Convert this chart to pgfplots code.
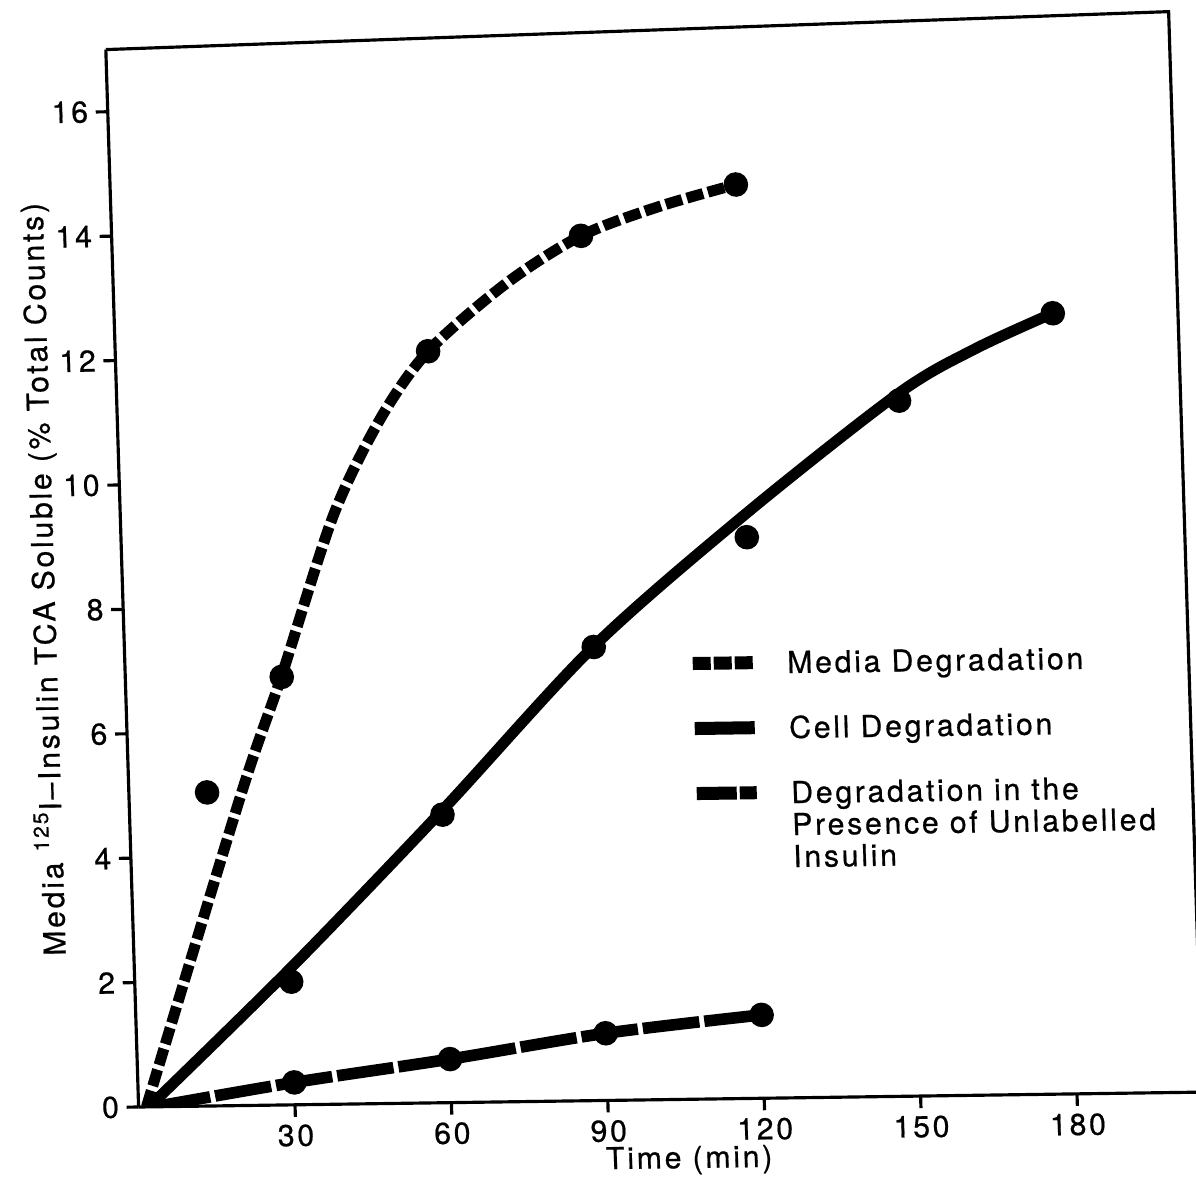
\documentclass[border=0pt]{standalone}
\usepackage{fontspec}
\setmainfont{TeX Gyre Heros}[LetterSpace=9, FakeBold=0.6]
\usepackage{pgfplots}
\pgfplotsset{compat=1.18}

\begin{document}
\begin{tikzpicture}[font=\fontsize{8.6}{9.1}\selectfont]
\useasboundingbox (0,0) rectangle (11.96,11.78);
\clip (0,0) rectangle (11.96,11.78);
% the printed frame is slightly skewed on the page
\begin{scope}[cm={1,0.014,-0.031,1,(1.386,0.71)}, transform shape]
\begin{axis}[
  scale only axis,
  width=10.635cm, height=10.574cm,
  xmin=0, xmax=204, ymin=0, ymax=17,
  axis x line*=bottom, axis y line*=left,
  axis line style={line width=0.9pt},
  tick align=outside,
  major tick length=0.12cm,
  every tick/.style={black, line width=0.9pt},
  xtick={30,60,...,180}, ytick={0,2,...,16},
  /pgf/number format/assume math mode=true,
  xticklabel style={inner sep=2pt},
  yticklabel style={inner sep=2pt},
  xlabel={Time (min)},
  ylabel={Media \textsuperscript{125}I--Insulin TCA Soluble (\% Total Counts)},
  xlabel style={at={(axis description cs:0.516,-0.065)}, anchor=base},
  ylabel style={at={(axis description cs:-0.064,0.5)}, anchor=base},
  % top and right edges of the frame (the top edge rises slightly to the right)
  extra description/.code={
    \draw[line width=0.9pt, line join=miter] (0,1) -- (1,1.0218) -- (1,0);
  },
  legend cell align=left,
  legend style={at={(axis cs:107.5,7.20)}, anchor=north west, draw=none, fill=none,
    inner sep=0pt, row sep=9.4pt, column sep=0.28cm,
    cells={anchor=base west},
    nodes={inner sep=0pt, text height=6.4pt, text depth=2.7pt}},
  legend image code/.code={\draw[#1] (0cm,3.1pt) -- (0.6cm,3.1pt);},
]
% fitted curves
\addplot[forget plot, black, line width=3.1pt, dash pattern=on 0.17cm off 0.05cm, smooth]
  coordinates {(1.5,0) (21.5,5.0) (30,6.9) (40.8,9.45) (50.4,11.0) (60,12.08)
  (75.5,13.16) (90,13.9) (105,14.35) (120,14.69)};
\addplot[forget plot, black, line width=3.1pt, smooth]
  coordinates {(2,0) (30,2.2) (60,4.7) (90,7.3) (120,9.4) (150,11.3) (165,12.0) (180,12.55)};
\addplot[forget plot, black, line width=3.3pt, dash pattern=on 0.57cm off 0.05cm, smooth]
  coordinates {(3,0) (30,0.36) (60,0.70) (90,1.08) (120,1.34)};
% measured points
\addplot[forget plot, only marks, mark=*, mark size=3.3pt, black]
  coordinates {(15,5.04) (30,6.88) (60,12.08) (90,13.90) (120,14.69)};
\addplot[forget plot, only marks, mark=*, mark size=3.3pt, black]
  coordinates {(30,1.98) (60,4.63) (90,7.29) (120,9.02) (150,11.18) (180,12.55)};
\addplot[forget plot, only marks, mark=*, mark size=3.3pt, black]
  coordinates {(30,0.36) (60,0.70) (90,1.08) (120,1.34)};
% key
\addlegendimage{black, line width=3.7pt, dash pattern=on 0.18cm off 0.03cm}
\addlegendentry{Media Degradation}
\addlegendimage{black, line width=3.7pt}
\addlegendentry{Cell Degradation}
\addlegendimage{black, line width=3.7pt, dash pattern=on 0.40cm off 0.03cm}
\addlegendentry{\begin{tabular}[t]{@{}l@{}}Degradation in the\\Presence of Unlabelled\\Insulin\end{tabular}}
\end{axis}
\end{scope}
\end{tikzpicture}
\end{document}
